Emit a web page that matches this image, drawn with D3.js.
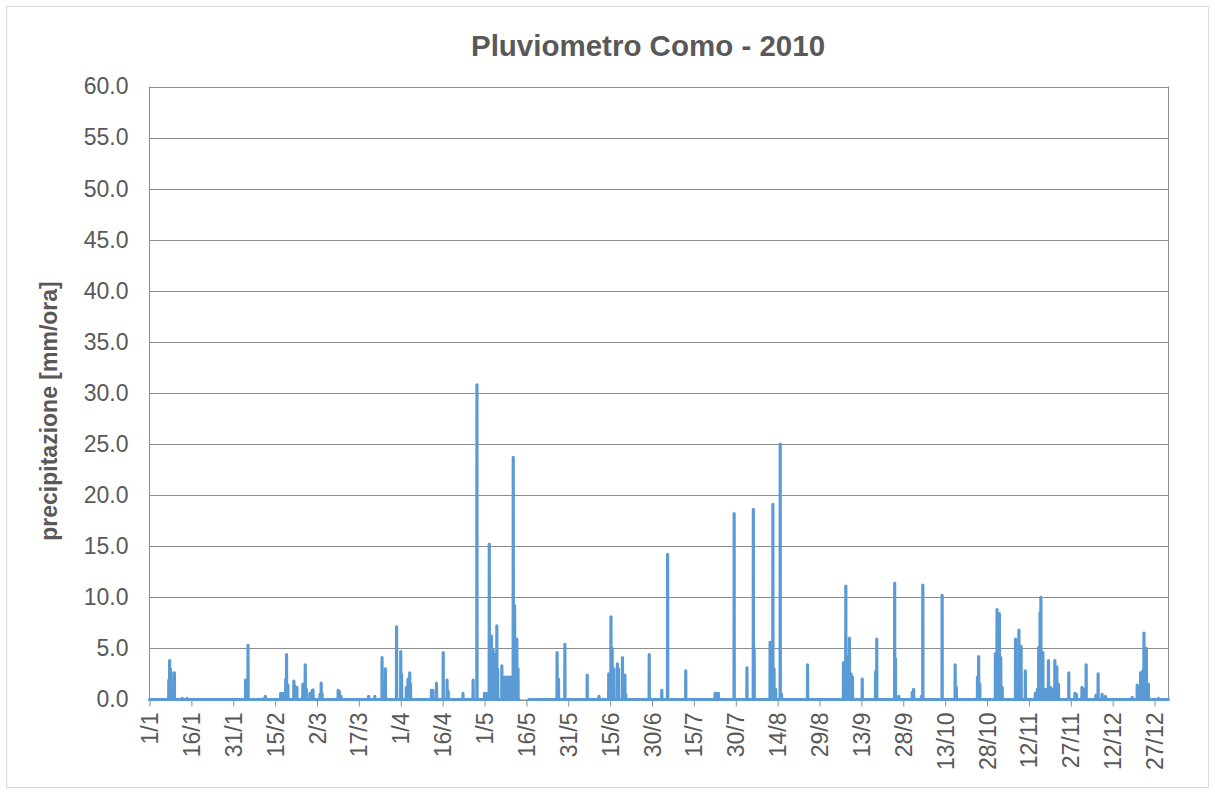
<!DOCTYPE html>
<html>
<head>
<meta charset="utf-8">
<script src="https://cdn.jsdelivr.net/npm/d3@7"></script>
<style>
  body { margin: 0; background: #fff; }
  text { font-family: "Liberation Sans", Arial, sans-serif; fill: #595959; }
</style>
</head>
<body>
<script>
// day of year (1/1 = 0) of each hourly reading that was not zero, and its value in mm/ora
const eventDay = [
  6.9, 7.2, 7.5, 8.7, 8.9, 11.8, 13.5,
  34.4, 35.3, 41.2, 41.5, 47.0, 47.8, 48.8, 49.1, 49.6, 51.7, 52.1, 52.8, 54.9, 55.8, 56.2, 57.5, 58.3, 58.6, 61.1, 61.5, 61.8,
  67.6, 68.0, 68.6, 78.5, 80.7, 83.3, 84.5, 88.5, 90.0, 90.3, 92.0, 92.6, 93.2, 93.5,
  101.0, 101.5, 102.8, 105.2, 106.6, 107.0, 112.3, 115.9, 117.3, 120.0, 120.6, 121.7, 122.5, 123.1, 123.5, 124.4, 124.7,
  126.2, 126.5, 127.3, 128.0, 128.6, 129.4, 130.3, 130.8, 131.6, 132.0,
  146.0, 146.5, 148.8, 156.8, 161.0, 164.5, 165.3, 165.7, 166.3, 167.6, 168.0, 169.4, 170.3, 170.6,
  179.0, 183.5, 185.6, 192.1, 202.6, 203.2, 203.8, 209.4, 214.0, 216.3, 216.6,
  222.3, 223.3, 223.7, 224.3, 225.9, 226.4, 235.7,
  248.6, 249.4, 249.8, 250.7, 251.3, 251.8, 255.3, 260.1, 260.5, 266.9, 267.2, 268.4, 273.2, 273.7, 276.5, 277.0, 283.9,
  288.6, 289.0, 296.6, 297.0, 297.4, 303.0, 303.6, 304.4, 304.9, 305.4, 310.2, 311.4, 312.2, 313.7,
  317.3, 318.0, 318.5, 319.0, 319.3, 320.0, 320.8, 321.3, 322.0, 322.8, 323.5, 324.3, 325.0, 325.6,
  329.3, 331.5, 332.0, 334.0, 334.6, 335.5, 339.0, 339.8, 341.2, 342.4,
  352.0, 353.8, 354.4, 355.0, 355.8, 356.2, 357.1, 357.8, 361.5
];
const eventMm = [
  1.9, 3.8, 3.0, 2.6, 2.6, 0.1, 0.1,
  1.9, 5.3, 0.1, 0.3, 0.6, 0.6, 2.0, 4.4, 1.4, 1.8, 1.3, 1.2, 1.5, 3.4, 1.0, 0.6, 0.9, 0.95, 0.5, 1.6, 0.6,
  0.9, 0.8, 0.3, 0.3, 0.3, 4.1, 3.0, 7.1, 4.7, 2.5, 1.2, 2.0, 2.6, 1.5,
  0.9, 0.9, 1.6, 4.6, 1.9, 0.8, 0.6, 1.9, 30.8, 0.6, 0.6, 15.2, 6.2, 4.8, 4.4, 7.2, 3.0,
  3.3, 2.2, 2.2, 2.2, 2.2, 2.2, 23.7, 9.2, 5.9, 3.0,
  4.6, 2.0, 5.4, 2.4, 0.3, 2.5, 8.1, 5.0, 3.0, 3.5, 3.0, 4.1, 2.4, 0.5,
  4.4, 0.9, 14.2, 2.8, 0.6, 0.6, 0.6, 18.2, 3.1, 18.6, 5.0,
  5.6, 19.1, 3.0, 1.0, 25.0, 0.5, 3.4,
  3.6, 11.1, 4.2, 6.0, 2.5, 2.2, 2.0, 2.7, 5.9, 11.4, 4.0, 0.3, 0.7, 1.0, 0.3, 11.2, 10.2,
  3.4, 1.2, 2.2, 4.2, 1.5, 4.5, 8.8, 8.4, 4.1, 1.2, 5.9, 6.8, 5.2, 2.8,
  0.6, 1.0, 5.1, 8.5, 10.0, 4.6, 1.0, 1.0, 3.8, 1.2, 1.0, 3.8, 3.2, 1.5,
  2.6, 0.6, 0.5, 1.2, 1.0, 3.4, 0.4, 2.5, 0.5, 0.3,
  0.2, 1.4, 1.2, 2.6, 2.8, 6.5, 5.0, 1.5, 0.1
];
// days with no readings (instrument gap in May)
const gapDays = [132.3, 135.9];

const xTickLabels = ["1/1", "16/1", "31/1", "15/2", "2/3", "17/3", "1/4", "16/4", "1/5", "16/5",
  "31/5", "15/6", "30/6", "15/7", "30/7", "14/8", "29/8", "13/9", "28/9", "13/10",
  "28/10", "12/11", "27/11", "12/12", "27/12"];
const yTicks = [0, 5, 10, 15, 20, 25, 30, 35, 40, 45, 50, 55, 60];

(function() {
  let svgContainer = "";
  const hoursInYear = 365 * 24;

  window.onload = function() {
    svgContainer = d3.select('body')
      .append('svg')
        .attr('width', 1215)
        .attr('height', 794);

    // chart border
    svgContainer.append('rect')
      .attr('x', 6.5).attr('y', 6.5)
      .attr('width', 1202).attr('height', 781)
      .attr('fill', '#fff')
      .attr('stroke', '#d9d9d9');

    let hourly = buildHourly();
    let scales = drawAxes();
    plotData(hourly, scales);
  }

  // one value per hour: zero, the readings above, null inside the gap
  function buildHourly() {
    let values = [];
    for (let h = 0; h < hoursInYear; h++) {
      let day = h / 24;
      values.push(day > gapDays[0] && day < gapDays[1] ? null : 0);
    }
    eventDay.forEach((d, i) => {
      values[Math.round(d * 24)] = eventMm[i];
    });
    return values;
  }

  function drawAxes() {
    let xScale = d3.scaleLinear()
      .domain([0, 365])
      .range([149.5, 1168.5]);

    let yScale = d3.scaleLinear()
      .domain([0, 60])
      .range([699.5, 86.5]);

    // horizontal gridlines
    svgContainer.append('g')
      .selectAll('line')
      .data(yTicks)
      .enter()
      .append('line')
        .attr('x1', xScale(0))
        .attr('x2', xScale(365))
        .attr('y1', (d) => Math.round(yScale(d)) + 0.5)
        .attr('y2', (d) => Math.round(yScale(d)) + 0.5)
        .attr('stroke', '#8c8c8c')
        .attr('stroke-width', 1);

    // plot area left/right edges
    [0, 365].forEach((d) => {
      svgContainer.append('line')
        .attr('x1', xScale(d)).attr('x2', xScale(d))
        .attr('y1', yScale(60)).attr('y2', yScale(0))
        .attr('stroke', '#8c8c8c');
    });

    // y axis labels
    let yAxis = d3.axisLeft(yScale)
      .tickValues(yTicks)
      .tickFormat(d3.format('.1f'))
      .tickSize(0)
      .tickPadding(21);
    let yg = svgContainer.append('g')
      .attr('transform', 'translate(' + xScale(0) + ',0)')
      .call(yAxis);
    yg.select('.domain').remove();
    yg.selectAll('text')
      .attr('font-size', 23)
      .attr('font-family', '"Liberation Sans", Arial, sans-serif')
      .attr('fill', '#595959');

    // x axis: a tick every 15 days
    let xAxis = d3.axisBottom(xScale)
      .tickValues(xTickLabels.map((l, i) => i * 15))
      .tickFormat((d, i) => xTickLabels[i])
      .tickSizeInner(7)
      .tickSizeOuter(0);
    let xg = svgContainer.append('g')
      .attr('transform', 'translate(0,' + yScale(0) + ')')
      .call(xAxis);
    xg.select('.domain').attr('stroke', '#8c8c8c');
    xg.selectAll('.tick line').attr('stroke', '#8c8c8c');
    xg.selectAll('text')
      .attr('font-size', 23)
      .attr('font-family', '"Liberation Sans", Arial, sans-serif')
      .attr('fill', '#595959')
      .attr('text-anchor', 'end')
      .attr('transform', 'rotate(-90)')
      .attr('x', -13)
      .attr('y', 0)
      .attr('dy', '0.35em');

    // title
    svgContainer.append('text')
      .attr('x', 648)
      .attr('y', 56)
      .attr('text-anchor', 'middle')
      .attr('font-size', 29.5)
      .attr('font-weight', 'bold')
      .text('Pluviometro Como - 2010');

    // y axis title
    svgContainer.append('text')
      .attr('transform', 'translate(57,411) rotate(-90)')
      .attr('text-anchor', 'middle')
      .attr('font-size', 23)
      .attr('font-weight', 'bold')
      .text('precipitazione [mm/ora]');

    return { x: xScale, y: yScale };
  }

  function plotData(values, scales) {
    let line = d3.line()
      .defined((d) => d !== null)
      .x((d, i) => scales.x(i / 24))
      .y((d) => scales.y(d));

    svgContainer.append('path')
      .datum(values)
      .attr('d', line)
      .attr('fill', 'none')
      .attr('stroke', '#5b9bd5')
      .attr('stroke-width', 3.2)
      .attr('stroke-linejoin', 'round')
      .attr('stroke-linecap', 'round');
  }

})();
</script>
</body>
</html>
